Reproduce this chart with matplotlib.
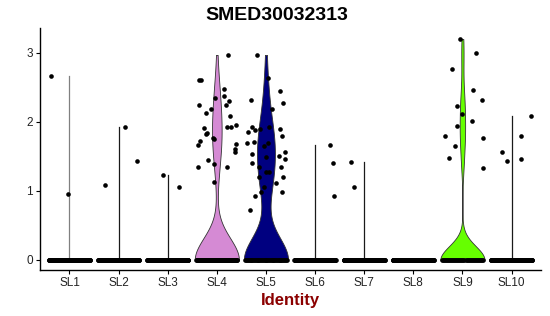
import numpy as np
import matplotlib.pyplot as plt

plt.rcParams['font.family'] = ['Liberation Sans', 'DejaVu Sans']

# clusters and the number of cells with zero expression in each
clusters = ['SL1', 'SL2', 'SL3', 'SL4', 'SL5', 'SL6', 'SL7', 'SL8', 'SL9', 'SL10']
n_zero = [150, 150, 150, 80, 48, 150, 150, 150, 41, 150]
fill_colors = ['#808080', '#1a1a1a', '#1a1a1a', '#D58AD4', '#000080',
               '#1a1a1a', '#1a1a1a', '#1a1a1a', '#66FF00', '#1a1a1a']

# non-zero expression values and their horizontal jitter
sl1_vals = [2.67, 0.95]
sl1_jit = [-0.38, -0.02]
sl2_vals = [1.92, 1.44, 1.08]
sl2_jit = [0.14, 0.37, -0.27]
sl3_vals = [1.23, 1.05]
sl3_jit = [-0.10, 0.22]
sl4_vals = [2.97, 2.61, 2.61, 2.47, 2.24, 2.35, 2.37, 2.30, 2.25, 2.18,
            2.13, 2.09, 1.91, 1.92, 1.92, 1.95, 1.84, 1.82, 1.77, 1.75,
            1.72, 1.67, 1.68, 1.61, 1.56, 1.45, 1.34, 1.39, 1.35, 1.13]
sl4_jit = [0.22, -0.37, -0.32, 0.14, -0.37, -0.03, 0.14, 0.24, 0.19, -0.12,
           -0.22, 0.27, -0.27, 0.20, 0.29, 0.39, -0.20, -0.23, -0.07, -0.06,
           -0.35, -0.38, 0.39, 0.36, 0.36, -0.18, -0.39, -0.06, 0.21, -0.06]
sl5_vals = [2.97, 2.63, 2.45, 2.32, 2.28, 2.19, 1.93, 1.88, 1.89, 1.85,
            1.92, 1.90, 1.80, 1.71, 1.69, 1.65, 1.69, 1.56, 1.53, 1.51,
            1.49, 1.46, 1.41, 1.35, 1.34, 1.27, 1.28, 1.20, 1.20, 1.12,
            1.06, 0.98, 0.99, 0.93, 0.72]
sl5_jit = [-0.18, 0.04, 0.29, -0.30, 0.35, 0.12, -0.28, -0.22, -0.13, -0.37,
           0.06, 0.28, 0.32, -0.25, -0.38, -0.03, 0.05, 0.38, -0.28, 0.26,
           0.00, 0.38, -0.29, -0.14, 0.30, 0.00, 0.07, -0.15, 0.35, 0.20,
           -0.03, -0.10, 0.32, -0.22, -0.33]
sl6_vals = [1.67, 1.41, 0.92]
sl6_jit = [0.30, 0.36, 0.38]
sl7_vals = [1.42, 1.06]
sl7_jit = [-0.27, -0.21]
sl8_vals = []
sl8_jit = []
sl9_vals = [3.20, 3.00, 2.76, 2.46, 2.32, 2.23, 2.12, 2.01, 1.94, 1.79,
            1.77, 1.65, 1.48, 1.33]
sl9_jit = [-0.05, 0.28, -0.22, 0.21, 0.40, -0.11, 0.00, 0.20, -0.11, -0.35,
           0.41, -0.16, -0.27, 0.41]
sl10_vals = [2.09, 1.80, 1.56, 1.44, 1.46]
sl10_jit = [0.40, 0.20, -0.20, -0.10, 0.19]

all_vals = [sl1_vals, sl2_vals, sl3_vals, sl4_vals, sl5_vals,
            sl6_vals, sl7_vals, sl8_vals, sl9_vals, sl10_vals]
all_jit = [sl1_jit, sl2_jit, sl3_jit, sl4_jit, sl5_jit,
           sl6_jit, sl7_jit, sl8_jit, sl9_jit, sl10_jit]


def bw_nrd0(x):
    # R's default bandwidth
    sd = np.std(x, ddof=1)
    q1, q3 = np.percentile(x, [25, 75])
    lo = min(sd, (q3 - q1) / 1.34)
    return 0.9 * lo * len(x) ** -0.2


fig = plt.figure(figsize=(5.5, 3.16), dpi=100)
ax = fig.add_axes([40 / 550, 46 / 316, 501 / 550, 242 / 316])

for i, name in enumerate(clusters):
    pos = i + 1
    x = np.concatenate([np.zeros(n_zero[i]), np.array(all_vals[i], dtype=float)])
    bw = bw_nrd0(x)
    if bw > 0:
        grid = np.linspace(x.min(), x.max(), 512)
        dens = np.exp(-0.5 * ((grid[:, None] - x[None, :]) / bw) ** 2).sum(axis=1)
        hw = 0.45 * dens / dens.max()
        ax.fill_betweenx(grid, pos - hw, pos + hw, facecolor=fill_colors[i],
                         edgecolor='#333333', linewidth=0.6, zorder=2)
    elif x.max() > 0:
        ax.plot([pos, pos], [0, x.max()], color=fill_colors[i], lw=0.9, zorder=2)

    # jittered points: zeros form a band, non-zero values as read
    zx = pos + np.linspace(-0.42, 0.42, n_zero[i])
    ax.scatter(zx, np.zeros(n_zero[i]), s=11, color='black', linewidths=0, zorder=3)
    if all_vals[i]:
        ax.scatter(pos + np.array(all_jit[i]), all_vals[i], s=11, color='black',
                   linewidths=0, zorder=3)

ax.set_xlim(0.4, 10.6)
ax.set_ylim(-0.145, 3.36)
ax.set_xticks(range(1, 11))
ax.set_xticklabels(clusters)
ax.set_yticks([0, 1, 2, 3])
for s in ['top', 'right']:
    ax.spines[s].set_visible(False)
for s in ['left', 'bottom']:
    ax.spines[s].set_linewidth(1.0)
ax.tick_params(axis='both', length=3, width=0.8, labelsize=8.5, pad=2,
               colors='black', labelcolor='#222222')

ax.set_xlabel('Identity', fontsize=12, fontweight='bold', color='#8B0000', labelpad=3)
fig.text(277 / 550, 1 - 16 / 316, 'SMED30032313', ha='center', va='center',
         fontsize=14, fontweight='bold')

fig.savefig('out.png', dpi=100)
